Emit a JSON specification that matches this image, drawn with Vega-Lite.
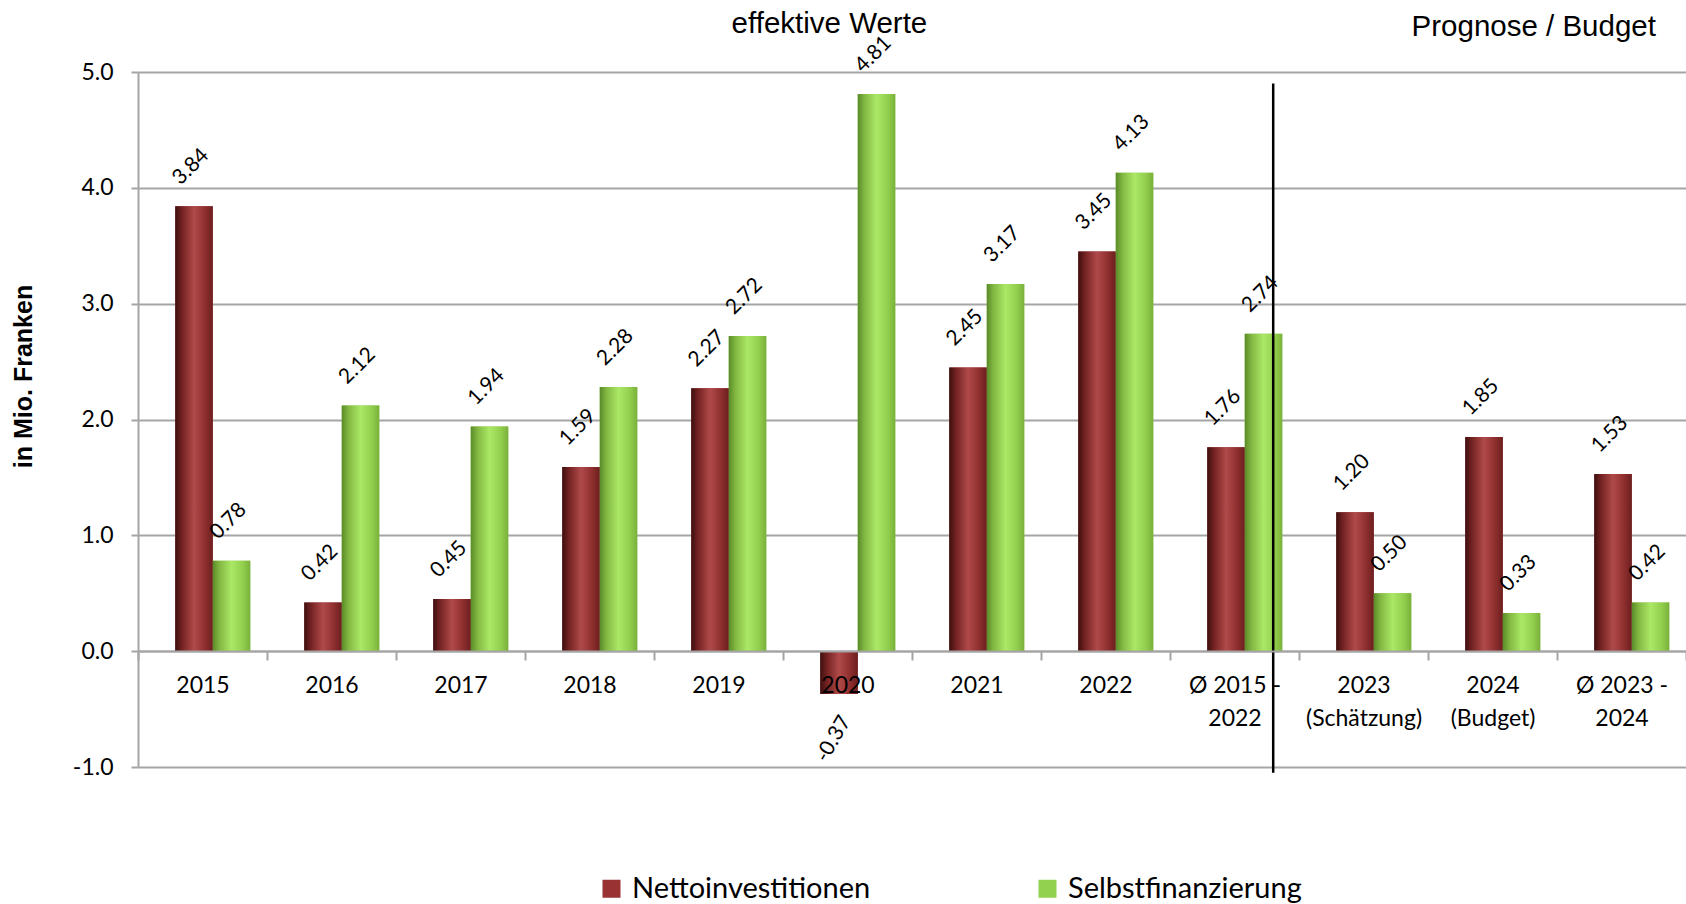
{
  "$schema": "https://vega.github.io/schema/vega-lite/v6.json",
  "autosize": {"type": "none"},
  "padding": {"left": 138, "top": 72, "right": 0, "bottom": 137},
  "width": 1548,
  "height": 695,
  "background": "white",
  "config": {"view": {"stroke": null}, "font": "Lato", "locale": {"number": {"decimal": ".", "thousands": ",", "grouping": [3], "currency": ["", ""], "minus": "-"}}},
  "data": {"values": [
    {"cat": "2015", "series": "Nettoinvestitionen", "value": 3.84},
    {"cat": "2016", "series": "Nettoinvestitionen", "value": 0.42},
    {"cat": "2017", "series": "Nettoinvestitionen", "value": 0.45},
    {"cat": "2018", "series": "Nettoinvestitionen", "value": 1.59},
    {"cat": "2019", "series": "Nettoinvestitionen", "value": 2.27},
    {"cat": "2020", "series": "Nettoinvestitionen", "value": -0.37},
    {"cat": "2021", "series": "Nettoinvestitionen", "value": 2.45},
    {"cat": "2022", "series": "Nettoinvestitionen", "value": 3.45},
    {"cat": "Ø 2015 - 2022", "series": "Nettoinvestitionen", "value": 1.76},
    {"cat": "2023 (Schätzung)", "series": "Nettoinvestitionen", "value": 1.20},
    {"cat": "2024 (Budget)", "series": "Nettoinvestitionen", "value": 1.85},
    {"cat": "Ø 2023 - 2024", "series": "Nettoinvestitionen", "value": 1.53},
    {"cat": "2015", "series": "Selbstfinanzierung", "value": 0.78},
    {"cat": "2016", "series": "Selbstfinanzierung", "value": 2.12},
    {"cat": "2017", "series": "Selbstfinanzierung", "value": 1.94},
    {"cat": "2018", "series": "Selbstfinanzierung", "value": 2.28},
    {"cat": "2019", "series": "Selbstfinanzierung", "value": 2.72},
    {"cat": "2020", "series": "Selbstfinanzierung", "value": 4.81},
    {"cat": "2021", "series": "Selbstfinanzierung", "value": 3.17},
    {"cat": "2022", "series": "Selbstfinanzierung", "value": 4.13},
    {"cat": "Ø 2015 - 2022", "series": "Selbstfinanzierung", "value": 2.74},
    {"cat": "2023 (Schätzung)", "series": "Selbstfinanzierung", "value": 0.50},
    {"cat": "2024 (Budget)", "series": "Selbstfinanzierung", "value": 0.33},
    {"cat": "Ø 2023 - 2024", "series": "Selbstfinanzierung", "value": 0.42}
  ]},
  "layer": [
    {
      "mark": {"type": "bar"},
      "encoding": {
        "x": {"field": "cat", "type": "nominal",
          "scale": {"domain": ["2015","2016","2017","2018","2019","2020","2021","2022","Ø 2015 - 2022","2023 (Schätzung)","2024 (Budget)","Ø 2023 - 2024"], "paddingInner": 0, "paddingOuter": 0},
          "axis": {"title": null, "offset": -116, "zindex": 1, "labelExpr": "split(replace(replace(datum.label, ' - ', ' -|'), ' (', '|('), '|')", "labelFont": "Lato", "labelFontSize": 23, "labelColor": "#000000", "labelAngle": 0, "labelPadding": 14, "labelLineHeight": 33, "labelLimit": 300, "tickBand": "extent", "tickSize": 9, "tickColor": "#a5a5a5", "tickWidth": 2, "domainColor": "#a5a5a5", "domainWidth": 2, "grid": false}},
        "xOffset": {"field": "series", "type": "nominal", "scale": {"domain": ["Nettoinvestitionen", "Selbstfinanzierung"], "paddingInner": 0, "paddingOuter": 0.72, "align": 0.69}},
        "y": {"field": "value", "type": "quantitative",
          "scale": {"domain": [-1, 5], "nice": false},
          "axis": {"title": "in Mio. Franken", "values": [-1, 0, 1, 2, 3, 4, 5], "format": ".1f", "labelFont": "Lato", "labelFontSize": 23, "labelColor": "#000000", "labelPadding": 18, "tickSize": 7, "tickColor": "#a5a5a5", "tickWidth": 2, "domainColor": "#a5a5a5", "domainWidth": 2, "grid": true, "gridColor": "#a5a5a5", "gridWidth": 2, "titleFont": "Liberation Sans", "titleFontSize": 25, "titleFontWeight": "bold", "titleColor": "#000000", "titleX": -115, "titleY": 304, "titleBaseline": "middle", "titleAlign": "center", "titleAngle": 270}},
        "color": {"field": "series", "type": "nominal",
          "scale": {"domain": ["Nettoinvestitionen", "Selbstfinanzierung"], "range": ["#993333", "#92D050"]},
          "legend": {"title": null, "orient": "none", "legendX": 459, "legendY": 802, "direction": "horizontal", "symbolType": "square", "symbolSize": 324, "symbolStrokeWidth": 0, "labelFont": "Lato", "labelFontSize": 29, "labelColor": "#000000", "labelOffset": 6, "labelLimit": 500, "columnPadding": 162, "padding": 0}}
      }
    },
    {
      "transform": [{"filter": "datum.series == 'Nettoinvestitionen'"}],
      "mark": {"type": "bar", "fill": {"gradient": "linear", "x1": 0, "x2": 1, "y1": 0, "y2": 0, "stops": [
        {"offset": 0, "color": "#3d0f0f"}, {"offset": 0.18, "color": "#742222"}, {"offset": 0.5, "color": "#b04a4a"}, {"offset": 0.8, "color": "#8e2e2e"}, {"offset": 1, "color": "#6c1f1f"}]}},
      "encoding": {
        "x": {"field": "cat", "type": "nominal", "scale": {"domain": ["2015","2016","2017","2018","2019","2020","2021","2022","Ø 2015 - 2022","2023 (Schätzung)","2024 (Budget)","Ø 2023 - 2024"], "paddingInner": 0, "paddingOuter": 0}},
        "xOffset": {"field": "series", "type": "nominal", "scale": {"domain": ["Nettoinvestitionen", "Selbstfinanzierung"], "paddingInner": 0, "paddingOuter": 0.72, "align": 0.69}},
        "y": {"field": "value", "type": "quantitative", "scale": {"domain": [-1, 5], "nice": false}}
      }
    },
    {
      "transform": [{"filter": "datum.series == 'Selbstfinanzierung'"}],
      "mark": {"type": "bar", "fill": {"gradient": "linear", "x1": 0, "x2": 1, "y1": 0, "y2": 0, "stops": [
        {"offset": 0, "color": "#5a8a28"}, {"offset": 0.18, "color": "#82b842"}, {"offset": 0.5, "color": "#abe866"}, {"offset": 0.8, "color": "#92cf4e"}, {"offset": 1, "color": "#79b03a"}]}},
      "encoding": {
        "x": {"field": "cat", "type": "nominal", "scale": {"domain": ["2015","2016","2017","2018","2019","2020","2021","2022","Ø 2015 - 2022","2023 (Schätzung)","2024 (Budget)","Ø 2023 - 2024"], "paddingInner": 0, "paddingOuter": 0}},
        "xOffset": {"field": "series", "type": "nominal", "scale": {"domain": ["Nettoinvestitionen", "Selbstfinanzierung"], "paddingInner": 0, "paddingOuter": 0.72, "align": 0.69}},
        "y": {"field": "value", "type": "quantitative", "scale": {"domain": [-1, 5], "nice": false}}
      }
    },
    {
      "transform": [{"filter": "datum.value >= 0"}],
      "mark": {"type": "text", "angle": 315, "align": "left", "baseline": "alphabetic", "dx": 5, "dy": -24, "font": "Lato", "fontSize": 21, "color": "#000000"},
      "encoding": {
        "x": {"field": "cat", "type": "nominal", "scale": {"domain": ["2015","2016","2017","2018","2019","2020","2021","2022","Ø 2015 - 2022","2023 (Schätzung)","2024 (Budget)","Ø 2023 - 2024"], "paddingInner": 0, "paddingOuter": 0}},
        "xOffset": {"field": "series", "type": "nominal", "scale": {"domain": ["Nettoinvestitionen", "Selbstfinanzierung"], "paddingInner": 0, "paddingOuter": 0.72, "align": 0.69}},
        "y": {"field": "value", "type": "quantitative", "scale": {"domain": [-1, 5], "nice": false}},
        "text": {"field": "value", "type": "quantitative", "format": ".2f"}
      }
    },
    {
      "transform": [{"filter": "datum.value < 0"}],
      "mark": {"type": "text", "angle": 300, "align": "right", "baseline": "top", "dx": -17, "dy": 7, "font": "Lato", "fontSize": 21, "color": "#000000"},
      "encoding": {
        "x": {"field": "cat", "type": "nominal", "scale": {"domain": ["2015","2016","2017","2018","2019","2020","2021","2022","Ø 2015 - 2022","2023 (Schätzung)","2024 (Budget)","Ø 2023 - 2024"], "paddingInner": 0, "paddingOuter": 0}},
        "xOffset": {"field": "series", "type": "nominal", "scale": {"domain": ["Nettoinvestitionen", "Selbstfinanzierung"], "paddingInner": 0, "paddingOuter": 0.72, "align": 0.69}},
        "y": {"field": "value", "type": "quantitative", "scale": {"domain": [-1, 5], "nice": false}},
        "text": {"field": "value", "type": "quantitative", "format": ".2f"}
      }
    },
    {
      "data": {"values": [{}]},
      "mark": {"type": "rule", "color": "#000000", "strokeWidth": 2.5},
      "encoding": {
        "x": {"datum": "Ø 2015 - 2022", "type": "nominal", "bandPosition": 0.8, "scale": {"domain": ["2015","2016","2017","2018","2019","2020","2021","2022","Ø 2015 - 2022","2023 (Schätzung)","2024 (Budget)","Ø 2023 - 2024"], "paddingInner": 0, "paddingOuter": 0}},
        "y": {"datum": 4.9, "type": "quantitative", "scale": {"domain": [-1, 5], "nice": false}},
        "y2": {"datum": -1.05}
      }
    },
    {
      "data": {"values": [{}]},
      "mark": {"type": "text", "text": "effektive Werte", "font": "Liberation Sans", "fontSize": 29.5, "align": "center", "baseline": "middle", "color": "#000000"},
      "encoding": {
        "x": {"datum": "2020", "type": "nominal", "bandPosition": 0.36, "scale": {"domain": ["2015","2016","2017","2018","2019","2020","2021","2022","Ø 2015 - 2022","2023 (Schätzung)","2024 (Budget)","Ø 2023 - 2024"], "paddingInner": 0, "paddingOuter": 0}},
        "y": {"datum": 5.414, "type": "quantitative", "scale": {"domain": [-1, 5], "nice": false}}
      }
    },
    {
      "data": {"values": [{}]},
      "mark": {"type": "text", "text": "Prognose / Budget", "font": "Liberation Sans", "fontSize": 29.5, "align": "right", "baseline": "middle", "color": "#000000"},
      "encoding": {
        "x": {"datum": "Ø 2023 - 2024", "type": "nominal", "bandPosition": 0.767, "scale": {"domain": ["2015","2016","2017","2018","2019","2020","2021","2022","Ø 2015 - 2022","2023 (Schätzung)","2024 (Budget)","Ø 2023 - 2024"], "paddingInner": 0, "paddingOuter": 0}},
        "y": {"datum": 5.39, "type": "quantitative", "scale": {"domain": [-1, 5], "nice": false}}
      }
    }
  ]
}
